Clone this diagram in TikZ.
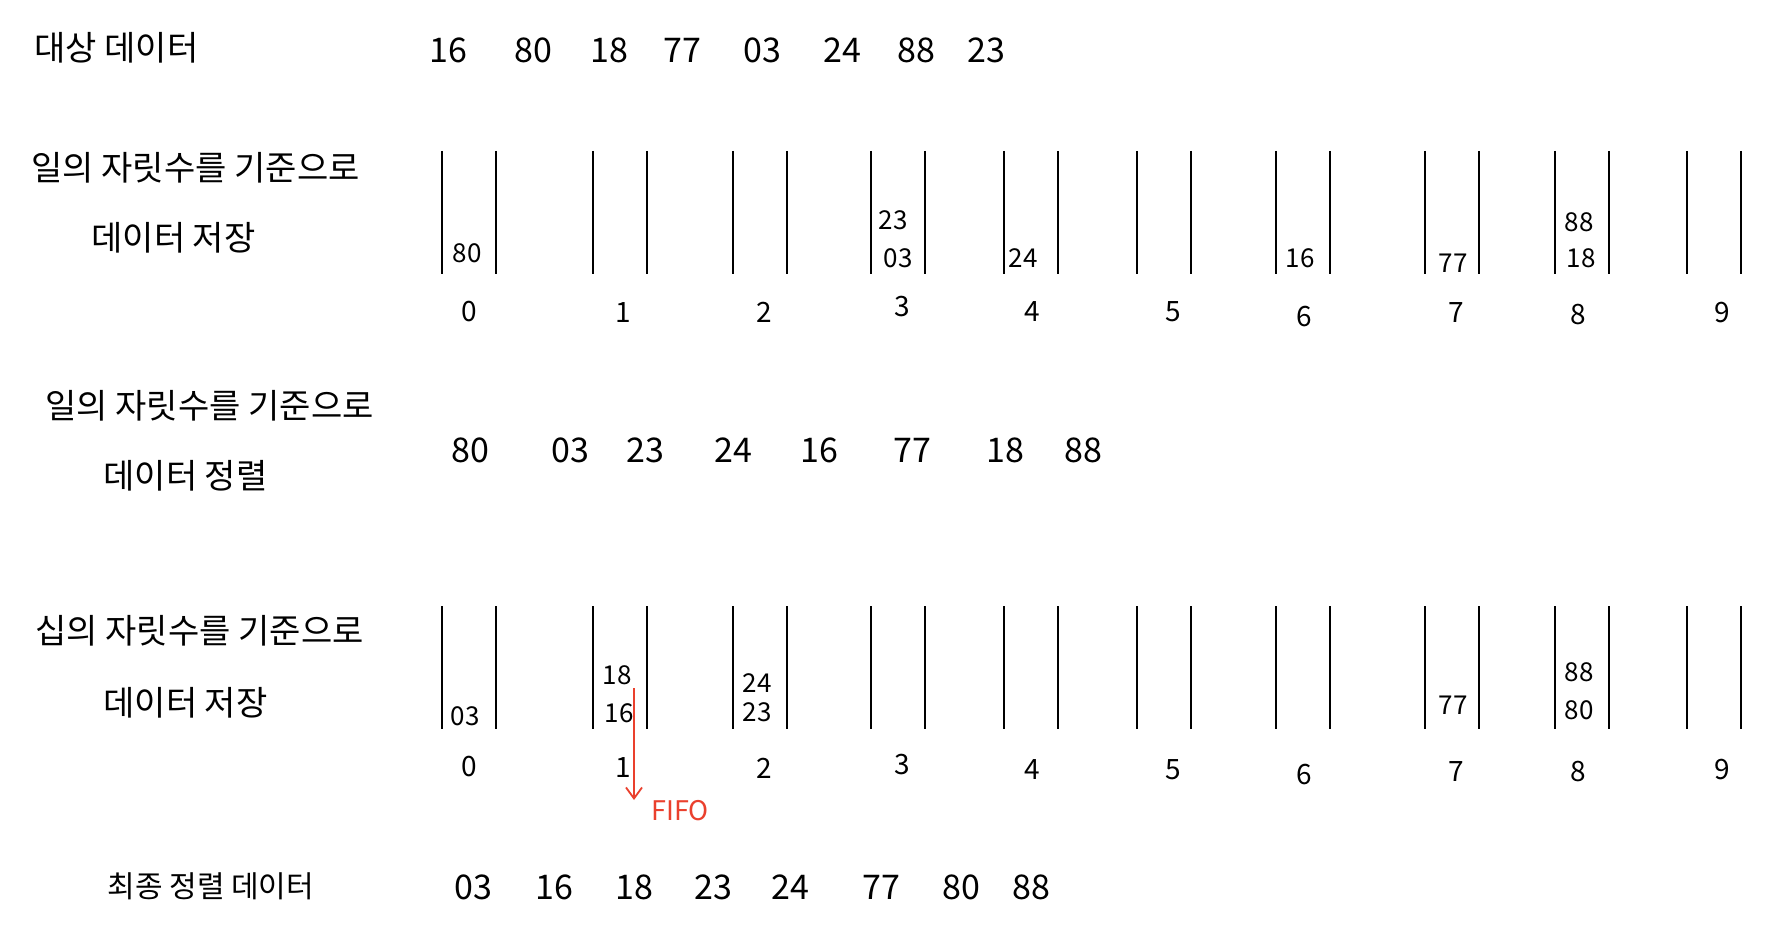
\documentclass[tikz,border=0pt]{standalone}
\usepackage{fontspec}
\setmainfont{Noto Sans CJK KR}
\usetikzlibrary{arrows.meta}
\definecolor{fifored}{RGB}{234,64,45}

\begin{document}
\begin{tikzpicture}[x=1pt, y=-1pt,
        title/.style={anchor=west, font=\fontsize{34}{34}\selectfont},
        num/.style={font=\fontsize{34}{34}\selectfont},
        inbucket/.style={font=\fontsize{26}{26}\selectfont},
        digit/.style={font=\fontsize{28}{28}\selectfont},
        bar/.style={line width=2.4pt},
        fifo/.style={text=fifored, anchor=west, font=\fontsize{27}{27}\selectfont}]
    \useasboundingbox[fill=white] (0,0) rectangle (1777,941);

    % titles
    \node[title] (t-src) at (31,48) {대상 데이터};
    \node[title] (t-one-a) at (28,168) {일의 자릿수를 기준으로};
    \node[title] (t-one-b) at (88,238) {데이터 저장};
    \node[title] (t-sort-a) at (42,406) {일의 자릿수를 기준으로};
    \node[title] (t-sort-b) at (100,476) {데이터 정렬};
    \node[title] (t-ten-a) at (32,631) {십의 자릿수를 기준으로};
    \node[title] (t-ten-b) at (100,703) {데이터 저장};
    \node[title, font=\fontsize{30}{30}\selectfont] (t-final) at (104,886) {최종 정렬 데이터};

    % buckets
    \foreach \x in {442,593,733,871,1004,1137,1276,1425,1555,1687} {
        \draw[bar] (\x,151) -- (\x,274) (\x+54,151) -- (\x+54,274);
        \draw[bar] (\x,606) -- (\x,729) (\x+54,606) -- (\x+54,729);
    }
    \foreach \d/\x/\ya/\yb in {0/469/312/767, 1/623/313/768, 2/764/312/768,
            3/902/307/765, 4/1032/312/770, 5/1173/312/770, 6/1304/317/775,
            7/1456/313/772, 8/1578/315/772, 9/1722/313/770} {
        \node[digit] (ka-\d) at (\x,\ya) {\d};
        \node[digit] (kb-\d) at (\x,\yb) {\d};
    }

    % data rows
    \foreach \v/\x [count=\k] in {16/448, 80/533, 18/609, 77/682, 03/762, 24/842, 88/916, 23/986}
        \node[num] (src-\k) at (\x,50) {\v};
    \foreach \v/\x [count=\k] in {80/470, 03/570, 23/645, 24/733, 16/819, 77/912, 18/1005, 88/1083}
        \node[num] (sort-\k) at (\x,450) {\v};
    \foreach \v/\x [count=\k] in {03/473, 16/554, 18/634, 23/713, 24/790, 77/881, 80/961, 88/1031}
        \node[num] (final-\k) at (\x,887) {\v};

    % bucket contents
    \foreach \v/\x/\y [count=\k] in {80/467/253, 23/893/220, 03/898/258, 24/1023/258,
            16/1300/258, 77/1453/263, 88/1579/222, 18/1581/258}
        \node[inbucket] (ba-\k) at (\x,\y) {\v};
    \foreach \v/\x/\y [count=\k] in {03/465/716, 18/617/675, 16/619/713, 24/757/683,
            23/757/712, 77/1453/705, 88/1579/672, 80/1579/710}
        \node[inbucket] (bb-\k) at (\x,\y) {\v};

    % FIFO
    \coordinate (fifo-from) at (634,688);
    \coordinate (fifo-to) at (634,800);
    \node[fifo] (fifo) at (648,811) {FIFO};
    \draw[fifored, line width=1.8pt, -{Straight Barb[length=11pt, width=16pt]}] (fifo-from) -- (fifo-to);
\end{tikzpicture}
\end{document}
